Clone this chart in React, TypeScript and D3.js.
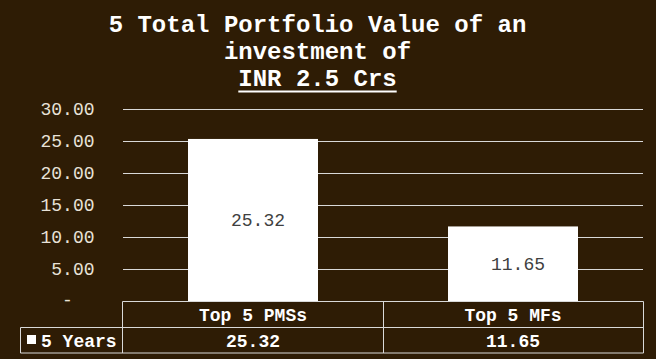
import React from "react";
import * as d3 from "d3";

const categories = ["Top 5 PMSs", "Top 5 MFs"];
const values = [25.32, 11.65];
const seriesName = "5 Years";
const yTicks = [0, 5, 10, 15, 20, 25, 30];
const titleLines = ["5 Total Portfolio Value of an", "investment of", "INR 2.5 Crs"];

const W = 656;
const H = 359;
const BG = "#2e1c05";
const GRID = "#d9d9d9";
const FONT = "'Liberation Mono', 'Courier New', monospace";

export default function App() {
  const plotLeft = 123;
  const plotRight = 643;
  const y0 = 301;
  const yTop = 109;

  const x = d3
    .scaleBand<string>()
    .domain(categories)
    .range([plotLeft, plotRight])
    .paddingInner(0.5)
    .paddingOuter(0.25);
  const y = d3.scaleLinear().domain([0, 30]).range([y0, yTop]);
  const fmt = (d: number) => (d === 0 ? "-" : d3.format(".2f")(d));

  const step = x.step();
  const titleCx = 317.5;
  const titleFs = 24;
  const underlineW = titleLines[2].length * titleFs * 0.6;

  const rowTop = 301.5;
  const rowMid = 327.5;
  const rowBot = 353;
  const tableLeft = 20.5;

  return (
    <svg
      width={W}
      height={H}
      style={{ position: "absolute", left: 0, top: 0, display: "block" }}
    >
      <rect x={0} y={0} width={W} height={H} fill={BG} />

      {/* title */}
      {titleLines.map((t, i) => (
        <text
          key={i}
          x={titleCx}
          y={32 + i * 27}
          textAnchor="middle"
          fontFamily={FONT}
          fontWeight="bold"
          fontSize={titleFs}
          fill="#ffffff"
        >
          {t}
        </text>
      ))}
      <rect
        x={titleCx - underlineW / 2}
        y={90.5}
        width={underlineW}
        height={2}
        fill="#ffffff"
      />

      {/* gridlines */}
      {yTicks
        .filter((d) => d > 0)
        .map((d) => (
          <line
            key={d}
            x1={plotLeft}
            x2={plotRight}
            y1={Math.round(y(d)) + 0.5}
            y2={Math.round(y(d)) + 0.5}
            stroke={GRID}
            strokeWidth={1}
          />
        ))}

      {/* y tick labels */}
      {yTicks.map((d) => (
        <text
          key={d}
          x={d === 0 ? 72.7 : 94.5}
          y={y(d)}
          dy={d === 0 ? "0.3em" : "0.35em"}
          textAnchor="end"
          fontFamily={FONT}
          fontSize={18}
          fill="#e8e2d8"
        >
          {fmt(d)}
        </text>
      ))}

      {/* bars */}
      {categories.map((c, i) => (
        <rect
          key={c}
          x={x(c)!}
          y={y(values[i])}
          width={x.bandwidth()}
          height={y0 - y(values[i])}
          fill="#ffffff"
        />
      ))}

      {/* data labels */}
      {categories.map((c, i) => (
        <text
          key={c}
          x={x(c)! + x.bandwidth() / 2 + 5}
          y={(y(values[i]) + y0) / 2}
          dy="0.35em"
          textAnchor="middle"
          fontFamily={FONT}
          fontSize={18}
          fill="#404040"
        >
          {d3.format(".2f")(values[i])}
        </text>
      ))}

      {/* data table */}
      <g stroke={GRID} strokeWidth={1} fill="none">
        <line x1={plotLeft - 0.5} x2={plotRight + 0.5} y1={rowTop} y2={rowTop} />
        <line x1={tableLeft} x2={plotRight + 0.5} y1={rowMid} y2={rowMid} />
        <line x1={tableLeft} x2={plotRight + 0.5} y1={rowBot} y2={rowBot} />
        <line x1={tableLeft} x2={tableLeft} y1={rowMid} y2={rowBot} />
        <line x1={plotLeft - 0.5} x2={plotLeft - 0.5} y1={rowTop} y2={rowBot} />
        {categories.slice(1).map((c) => (
          <line
            key={c}
            x1={Math.round(x(c)! - (step - x.bandwidth()) / 2) + 0.5}
            x2={Math.round(x(c)! - (step - x.bandwidth()) / 2) + 0.5}
            y1={rowTop}
            y2={rowBot}
          />
        ))}
        <line x1={plotRight + 0.5} x2={plotRight + 0.5} y1={rowTop} y2={rowBot} />
      </g>

      {categories.map((c, i) => (
        <g key={c}>
          <text
            x={x(c)! + x.bandwidth() / 2}
            y={(rowTop + rowMid) / 2}
            dy="0.35em"
            textAnchor="middle"
            fontFamily={FONT}
            fontWeight="bold"
            fontSize={18}
            fill="#ffffff"
          >
            {c}
          </text>
          <text
            x={x(c)! + x.bandwidth() / 2}
            y={(rowMid + rowBot) / 2}
            dy="0.35em"
            textAnchor="middle"
            fontFamily={FONT}
            fontWeight="bold"
            fontSize={18}
            fill="#ffffff"
          >
            {d3.format(".2f")(values[i])}
          </text>
        </g>
      ))}

      {/* legend key */}
      <rect x={27} y={335} width={9} height={9} fill="#ffffff" />
      <text
        x={41}
        y={(rowMid + rowBot) / 2}
        dy="0.35em"
        fontFamily={FONT}
        fontWeight="bold"
        fontSize={18}
        fill="#ffffff"
      >
        {seriesName}
      </text>
    </svg>
  );
}
